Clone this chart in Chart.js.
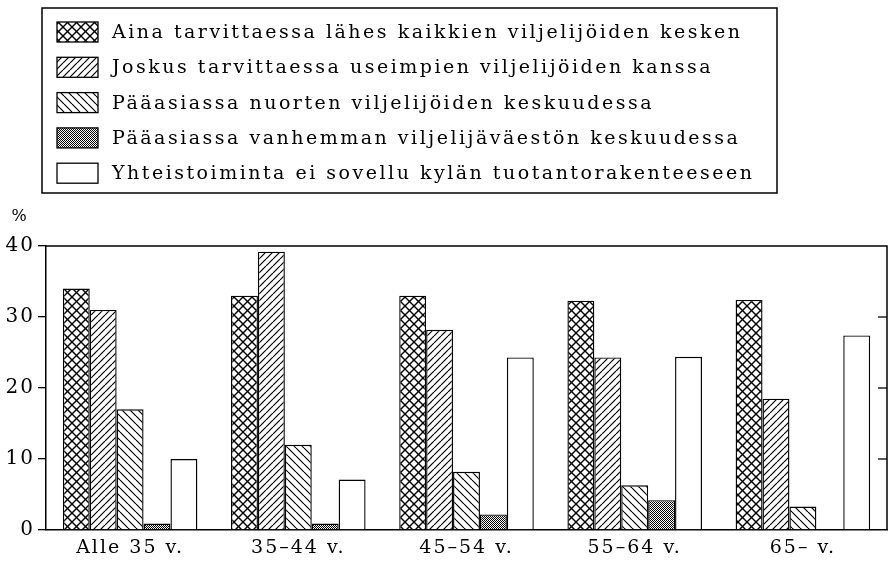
<!DOCTYPE html>
<html>
<head>
<meta charset="utf-8">
<script src="https://cdn.jsdelivr.net/npm/chart.js@4.4.0/dist/chart.umd.min.js"></script>
<style>
  body { margin: 0; background: #fff; }
  #wrap { width: 889px; height: 561px; }
</style>
</head>
<body>
<div id="wrap"><canvas id="chart"></canvas></div>
<script>
const categories = ["Alle 35 v.", "35–44 v.", "45–54 v.", "55–64 v.", "65– v."];

const seriesNames = [
    "Aina tarvittaessa lähes kaikkien viljelijöiden kesken",
    "Joskus tarvittaessa useimpien viljelijöiden kanssa",
    "Pääasiassa nuorten viljelijöiden keskuudessa",
    "Pääasiassa vanhemman viljelijäväestön keskuudessa",
    "Yhteistoiminta ei sovellu kylän tuotantorakenteeseen"
];

const alwaysAll   = [34, 33, 33, 32.3, 32.4];
const sometimes   = [31, 39.2, 28.2, 24.3, 18.5];
const youngOnly   = [17, 12, 8.2, 6.3, 3.3];
const olderOnly   = [0.9, 0.9, 2.2, 4.2, 0];
const notSuitable = [10, 7.1, 24.3, 24.4, 27.4];

const yTicks = [0, 10, 20, 30, 40];
const unitLabel = "%";

const FONT = '"DejaVu Serif", "Liberation Serif", serif';

// hatch patterns, like the old printed chart
function makeHatch(size, dirs, lw) {
    const c = document.createElement("canvas");
    c.width = size; c.height = size;
    const g = c.getContext("2d");
    g.fillStyle = "#fff";
    g.fillRect(0, 0, size, size);
    g.strokeStyle = "#000";
    g.lineWidth = lw;
    dirs.forEach(d => {
        for (let k = -1; k <= 1; k++) {
            g.beginPath();
            if (d === "/") {
                g.moveTo(k * size, size);
                g.lineTo(k * size + size, 0);
            } else {
                g.moveTo(k * size, 0);
                g.lineTo(k * size + size, size);
            }
            g.stroke();
        }
    });
    return g.createPattern(c, "repeat");
}

function makeDots() {
    const c = document.createElement("canvas");
    c.width = 2; c.height = 2;
    const g = c.getContext("2d");
    g.fillStyle = "#fff";
    g.fillRect(0, 0, 2, 2);
    g.fillStyle = "#000";
    g.fillRect(0, 0, 1, 1);
    g.fillRect(1, 1, 1, 1);
    return g.createPattern(c, "repeat");
}

const fills = [
    makeHatch(9, ["/", "\\"], 1.4),
    makeHatch(7, ["/"], 1.2),
    makeHatch(8, ["\\"], 1.2),
    makeDots(),
    "#fff"
];

const seriesValues = [alwaysAll, sometimes, youngOnly, olderOnly, notSuitable];

const frameAndLegend = {
    id: "frameAndLegend",
    beforeDraw(chart) {
        // typewriter-ish wide spacing for every label
        chart.ctx.letterSpacing = "2px";
    },
    afterDraw(chart) {
        const { ctx, chartArea: a, scales: { y } } = chart;
        ctx.save();
        ctx.strokeStyle = "#000";
        ctx.lineWidth = 1.5;
        ctx.beginPath();
        ctx.moveTo(a.left, a.top);
        ctx.lineTo(a.right, a.top);
        ctx.lineTo(a.right, a.bottom);
        ctx.stroke();

        // inward ticks on the right edge
        ctx.lineWidth = 1.3;
        y.ticks.forEach(t => {
            if (t.value <= 0 || t.value >= 40) return;
            const py = y.getPixelForValue(t.value);
            ctx.beginPath();
            ctx.moveTo(a.right - 9, py);
            ctx.lineTo(a.right, py);
            ctx.stroke();
        });

        ctx.fillStyle = "#000";
        ctx.letterSpacing = "0px";
        ctx.font = "16px " + FONT;
        ctx.textAlign = "center";
        ctx.textBaseline = "middle";
        ctx.fillText(unitLabel, 19, 217);

        // legend box
        ctx.lineWidth = 1.5;
        ctx.strokeRect(42, 8, 735, 185);
        ctx.font = "19px " + FONT;
        ctx.letterSpacing = "2.5px";
        ctx.textAlign = "left";
        chart.data.datasets.forEach((ds, i) => {
            const cy = 32 + i * 35.3;
            ctx.fillStyle = ds.backgroundColor;
            ctx.fillRect(57, cy - 10, 41, 20);
            ctx.lineWidth = 1.3;
            ctx.strokeRect(57, cy - 10, 41, 20);
            ctx.fillStyle = "#000";
            ctx.fillText(ds.label, 112, cy + 1);
        });
        ctx.restore();
    }
};

new Chart(document.getElementById("chart"), {
    type: "bar",
    data: {
        labels: categories,
        datasets: seriesNames.map((name, i) => ({
            label: name,
            data: seriesValues[i],
            backgroundColor: fills[i],
            borderColor: "#000",
            borderWidth: 1.4,
            borderSkipped: "bottom",
            categoryPercentage: 0.8,
            barPercentage: 1.0
        }))
    },
    options: {
        responsive: true,
        maintainAspectRatio: false,
        animation: false,
        layout: { padding: { top: 246, right: 2, left: 0, bottom: 0 } },
        plugins: {
            legend: { display: false },
            tooltip: { enabled: false }
        },
        scales: {
            x: {
                grid: { display: true, drawOnChartArea: false, drawTicks: false },
                border: { color: "#000", width: 1.5 },
                ticks: { color: "#000", font: { family: FONT, size: 19 }, padding: 7, maxRotation: 0 },
                afterFit(s) { s.height = 31; }
            },
            y: {
                min: 0,
                max: 40,
                afterBuildTicks(s) { s.ticks = yTicks.map(v => ({ value: v })); },
                ticks: { color: "#000", font: { family: FONT, size: 20 }, padding: 3 },
                grid: { drawOnChartArea: false, tickLength: 8, color: "#000", lineWidth: 1.3 },
                border: { color: "#000", width: 1.5 },
                afterFit(s) { s.width = 46; }
            }
        }
    },
    plugins: [frameAndLegend]
});
</script>
</body>
</html>
